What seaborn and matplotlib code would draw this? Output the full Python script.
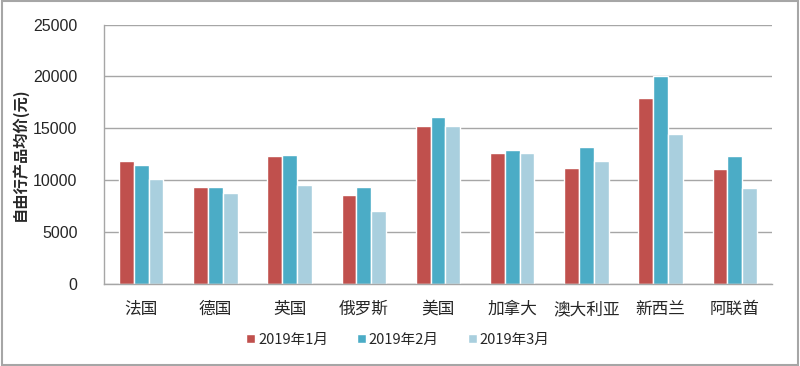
import pandas as pd
import matplotlib
matplotlib.use("Agg")
import matplotlib.pyplot as plt
import seaborn as sns
from matplotlib.patches import Rectangle

# 数据
国家 = ["法国", "德国", "英国", "俄罗斯", "美国", "加拿大", "澳大利亚", "新西兰", "阿联酋"]
月份 = ["2019年1月", "2019年2月", "2019年3月"]
均价_1月 = [11900, 9350, 12350, 8600, 15200, 12600, 11200, 17950, 11100]
均价_2月 = [11500, 9350, 12450, 9350, 16100, 12950, 13200, 20050, 12350]
均价_3月 = [10100, 8750, 9600, 7100, 15200, 12600, 11850, 14450, 9250]

颜色 = ["#C0504D", "#4BACC6", "#A9CFDE"]

df = pd.DataFrame({"国家": 国家 * 3,
                   "月份": [m for m in 月份 for _ in 国家],
                   "均价": 均价_1月 + 均价_2月 + 均价_3月})

sns.set_style("white")
plt.rcParams["font.family"] = ["Noto Sans CJK SC", "DejaVu Sans"]

fig = plt.figure(figsize=(8, 3.66), dpi=100)
ax = fig.add_axes([0.13, 0.223, 0.835, 0.71])

sns.barplot(data=df, x="国家", y="均价", hue="月份", order=国家, hue_order=月份,
            palette=颜色, width=0.6, saturation=1, ax=ax, legend=True)

ax.set_ylim(0, 25000)
ax.set_yticks(range(0, 25001, 5000))
ax.set_xlim(-0.5, len(国家) - 0.5)
ax.yaxis.grid(True, color="#A6A6A6", linewidth=1)
ax.set_axisbelow(True)
for s in ["top", "right"]:
    ax.spines[s].set_visible(False)
for s in ["left", "bottom"]:
    ax.spines[s].set_color("#A6A6A6")
    ax.spines[s].set_linewidth(1)

# 分类之间的刻度
ax.set_xticks([i - 0.5 for i in range(len(国家) + 1)], minor=True)
ax.tick_params(axis="x", which="minor", length=5, color="#A6A6A6", direction="out")
ax.tick_params(axis="x", which="major", length=0, labelsize=12, pad=12)
ax.tick_params(axis="y", length=5, color="#A6A6A6", direction="out", pad=14)
for t in ax.get_yticklabels():
    t.set_family(["Liberation Sans", "DejaVu Sans"])
    t.set_fontsize(11.5)

ax.set_xlabel("")
ax.set_ylabel("自由行产品均价(元)", fontsize=11, fontweight="bold", labelpad=4)

ax.legend(loc="upper center", bbox_to_anchor=(0.44, -0.135), ncol=3, frameon=False,
          fontsize=10.5, handlelength=0.6, handleheight=0.6, handletextpad=0.2,
          columnspacing=2.0)

fig.patches.append(Rectangle((0.002, 0.004), 0.996, 0.992, transform=fig.transFigure,
                             fill=False, edgecolor="#A6A6A6", linewidth=1.5))

fig.savefig("out.png", dpi=100)
